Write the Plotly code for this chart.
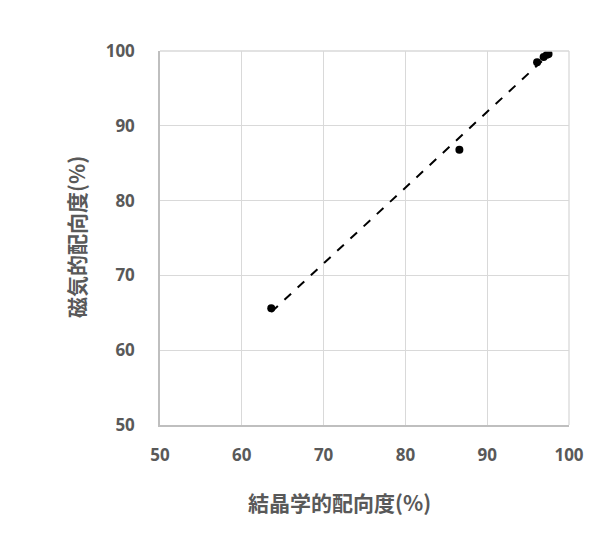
import numpy as np
import plotly.graph_objects as go

crystal = [63.6, 86.6, 96.1, 96.9, 97.3, 97.5]
magnetic = [65.6, 86.8, 98.5, 99.2, 99.5, 99.6]
ticks = [50, 60, 70, 80, 90, 100]
x_title = "結晶学的配向度(%)"
y_title = "磁気的配向度(%)"

x = np.array(crystal)
y = np.array(magnetic)
k, b = np.polyfit(x, y, 1)
xl = np.array([x.min(), x.max()])

fig = go.Figure()
fig.add_trace(go.Scatter(x=xl, y=k * xl + b, mode="lines",
                         line=dict(color="black", width=2, dash="dash"),
                         showlegend=False, hoverinfo="skip"))
fig.add_trace(go.Scatter(x=crystal, y=magnetic, mode="markers",
                         marker=dict(color="black", size=8),
                         showlegend=False))

tickfont = dict(family="Noto Sans", size=17, color="#595959", weight="bold")
axcommon = dict(range=[50, 100], tickvals=ticks, showgrid=True,
                gridcolor="#d9d9d9", gridwidth=1.3, showline=True,
                linecolor="#bfbfbf", linewidth=1.5, mirror=False,
                zeroline=False, ticks="", tickfont=tickfont)
titlefont = dict(family="Noto Sans CJK JP", size=21, color="#595959", weight="bold")

fig.update_xaxes(**axcommon, ticklabelstandoff=14)
fig.update_yaxes(**axcommon, ticklabelstandoff=20)
fig.update_layout(
    width=606, height=540,
    margin=dict(l=152, r=45, t=43, b=123),
    plot_bgcolor="white", paper_bgcolor="white",
    font=dict(family="Noto Sans"),
)
fig.add_annotation(text=x_title, xref="paper", yref="paper", x=0.44, y=-0.206,
                   showarrow=False, font=titlefont, xanchor="center", yanchor="middle")
fig.add_annotation(text=y_title, xref="paper", yref="paper", x=-0.205, y=0.503,
                   showarrow=False, font=titlefont, textangle=-90,
                   xanchor="center", yanchor="middle")
fig.add_shape(type="line", xref="paper", yref="paper", x0=0, x1=1, y0=1, y1=1,
              line=dict(color="#d9d9d9", width=1.3))
fig.add_shape(type="line", xref="paper", yref="paper", x0=1, x1=1, y0=0, y1=1,
              line=dict(color="#d9d9d9", width=1.3))
fig.write_html("out.html")
